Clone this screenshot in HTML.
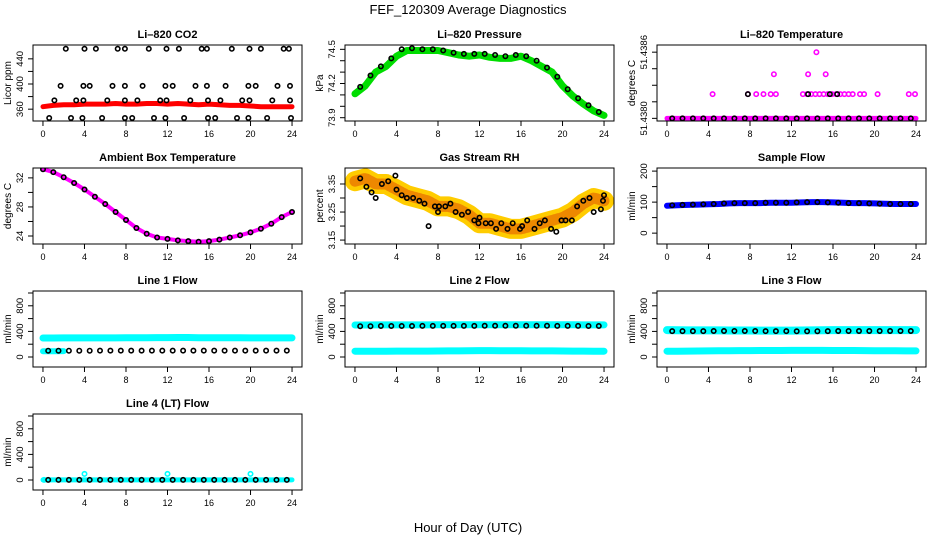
<!DOCTYPE html>
<html><head><meta charset="utf-8">
<style>
html,body{margin:0;padding:0;background:#fff;}
svg{display:block;font-family:"Liberation Sans",sans-serif;}
</style></head>
<body>
<svg id="c" width="936" height="540" viewBox="0 0 936 540">
<text x="468" y="14" text-anchor="middle" font-size="13">FEF_120309  Average Diagnostics</text>
<text x="468" y="532" text-anchor="middle" font-size="13">Hour of Day (UTC)</text>
</svg>
<script>
const HOURS=[0,1,2,3,4,5,6,7,8,9,10,11,12,13,14,15,16,17,18,19,20,21,22,23,24];
const HALF=[0.5,1.5,2.5,3.5,4.5,5.5,6.5,7.5,8.5,9.5,10.5,11.5,12.5,13.5,14.5,15.5,16.5,17.5,18.5,19.5,20.5,21.5,22.5,23.5];
const X_TICKS=[0,4,8,12,16,20,24];

// CO2
const co2Red=[364,366,367,367,368,368,368,369,368,368,369,369,368,369,368,367,368,367,366,366,365,364,364,364,364];
const co2H1=[2.2,4.0,5.1,7.2,7.9,10.2,11.9,13.1,15.3,15.8,18.2,19.9,21.0,23.2,23.7];
const co2V1=[456,456,456,456,456,456,456,456,456,456,456,456,456,456,456];
const co2H2=[1.7,3.9,4.5,6.7,7.9,9.6,11.8,12.5,14.7,15.8,17.6,19.8,20.5,22.6,23.8];
const co2V2=[397,397,397,397,397,397,397,397,397,397,397,397,397,397,397];
const co2H3=[1.1,3.2,3.9,6.2,7.9,9.1,11.3,11.9,14.2,15.9,17.1,19.2,19.9,22.1,23.8];
const co2V3=[374,374,374,374,374,374,374,374,374,374,374,374,374,374,374];
const co2H4=[0.6,2.7,3.8,5.7,7.9,8.6,10.7,11.8,13.6,15.9,16.6,18.7,19.8,21.6,23.9];
const co2V4=[346,346,346,346,346,346,346,346,346,346,346,346,346,346,346];
// Pressure
const presGreen=[74.11,74.18,74.30,74.35,74.44,74.49,74.49,74.49,74.49,74.47,74.45,74.44,74.45,74.43,74.42,74.42,74.44,74.40,74.35,74.30,74.18,74.09,74.02,73.96,73.92];
const presBlack=[74.17,74.27,74.35,74.42,74.50,74.51,74.50,74.50,74.49,74.47,74.46,74.46,74.46,74.45,74.44,74.45,74.44,74.40,74.34,74.26,74.15,74.07,74.01,73.95];
// Li-820 temperature
const tmpBaseH=HOURS;
const tmpBaseV=[51.4380,51.4380,51.4380,51.4380,51.4380,51.4380,51.4380,51.4380,51.4380,51.4380,51.4380,51.4380,51.4380,51.4380,51.4380,51.4380,51.4380,51.4380,51.4380,51.4380,51.4380,51.4380,51.4380,51.4380,51.4380];
const tmpMidH=[4.4,7.8,8.6,9.3,10.0,10.5,13.1,13.5,13.9,14.3,14.7,15.1,15.5,15.9,16.3,16.7,17.1,17.5,17.9,18.6,19.0,20.3,23.3,23.9];
const tmpMidV=[51.43822,51.43822,51.43822,51.43822,51.43822,51.43822,51.43822,51.43822,51.43822,51.43822,51.43822,51.43822,51.43822,51.43822,51.43822,51.43822,51.43822,51.43822,51.43822,51.43822,51.43822,51.43822,51.43822,51.43822];
const tmpHiH=[10.3,13.6,15.3,14.4];
const tmpHiV=[51.43840,51.43840,51.43840,51.43860];
const tmpBlkH=[7.8,13.6,15.7,16.4];
const tmpBlkV=[51.43822,51.43822,51.43822,51.43822];
// Ambient
const ambient=[33.2,32.8,32.1,31.3,30.4,29.4,28.4,27.3,26.2,25.1,24.3,23.8,23.6,23.4,23.3,23.2,23.3,23.5,23.8,24.1,24.5,25.0,25.7,26.6,27.3];
// Gas RH
const rhBand=[3.36,3.37,3.35,3.35,3.33,3.31,3.30,3.29,3.27,3.27,3.26,3.24,3.21,3.21,3.20,3.19,3.19,3.20,3.21,3.22,3.23,3.25,3.28,3.30,3.29];
const rhH=[0.5,1.1,1.6,2.0,2.6,3.2,3.9,4.0,4.5,5.0,5.6,6.2,6.7,7.1,7.7,8.0,8.1,8.7,9.2,9.7,10.3,10.9,11.5,11.9,12.0,12.6,13.1,13.6,14.1,14.7,15.2,15.9,16.1,16.6,17.3,17.8,18.3,18.9,19.4,19.9,20.3,20.9,21.4,22.0,22.6,23.0,23.7,23.9,24.0];
const rhV=[3.37,3.34,3.32,3.30,3.35,3.36,3.38,3.33,3.31,3.30,3.30,3.29,3.28,3.20,3.27,3.25,3.27,3.27,3.28,3.25,3.24,3.25,3.22,3.21,3.23,3.21,3.21,3.19,3.21,3.19,3.21,3.19,3.20,3.22,3.19,3.21,3.22,3.19,3.18,3.22,3.22,3.22,3.27,3.29,3.30,3.25,3.26,3.29,3.31];
// Sample flow
const sampleFlow=[88,90,91,92,93,94,96,97,97,97,98,98,98,99,100,100,99,98,97,97,96,95,94,94,94];
// Line flows
const l1Cyan=[297,297,298,298,299,299,299,299,300,301,302,303,303,304,304,302,301,300,300,300,299,299,299,299,298];
const l1Low=[90,90,92];
const l1Black=[98,98,99,99,99,100,100,100,100,100,100,100,100,100,100,100,100,100,100,100,100,100,100,100];
const l2Cyan=[500,500,501,501,502,502,502,502,503,503,504,504,504,505,505,505,504,504,503,503,503,503,502,502,502];
const l2Low=[90,90,91,91,92,92,93,93,94,95,96,97,100,100,99,98,97,96,95,95,94,93,92,91,91];
const l2Black=[482,482,484,485,485,485,486,486,486,486,486,486,487,487,488,488,488,488,487,486,486,486,485,485];
const l3Cyan=[420,418,416,416,416,415,414,414,414,413,413,412,412,414,416,418,420,420,420,420,420,420,420,420,420];
const l3Low=[90,90,92,94,95,97,99,100,100,101,102,102,103,103,103,103,102,102,101,100,99,98,97,96,96];
const l3Black=[404,405,405,405,406,406,406,406,406,405,405,404,402,402,403,404,406,407,407,406,406,406,406,406];
const l4Zero=[2,2,2,2,2,2,2,2,2,2,2,2,2,2,2,2,2,2,2,2,2,2,2,2,2];
const l4BlipH=[0.1,4.0,12.0,20.0];
const l4BlipV=[2,95,95,95];
const l4Black=[2,2,2,2,2,2,2,2,2,2,2,2,2,2,2,2,2,2,2,2,2,2,2,2];

const NS="http://www.w3.org/2000/svg";
const svg=document.getElementById('c');
function mk(tag,attrs,parent){const e=document.createElementNS(NS,tag);for(const k in attrs)e.setAttribute(k,attrs[k]);(parent||svg).appendChild(e);return e;}

const COLS=[33,345,657], ROWS=[45,168,291,414], W=269, H=76;
const XDOM=[-0.96,24.96];

const panels=[
 {title:'Li–820 CO2',name:'li820-co2',c:0,r:0,ylab:'Licor ppm',yd:[341.2,462.0],ticks:[360,380,400,420,440],labels:[[360,'360'],[400,'400'],[440,'440']],
  series:[{t:'band',x:HOURS,y:co2Red,col:'#ff0000',w:5},
   {t:'pts',x:co2H1,y:co2V1,col:'#000'},{t:'pts',x:co2H2,y:co2V2,col:'#000'},{t:'pts',x:co2H3,y:co2V3,col:'#000'},{t:'pts',x:co2H4,y:co2V4,col:'#000'}]},
 {title:'Li–820 Pressure',name:'li820-pressure',c:1,r:0,ylab:'kPa',yd:[73.871,74.538],ticks:[73.9,74.0,74.1,74.2,74.3,74.4,74.5],labels:[[74.5,'74.5'],[74.2,'74.2'],[73.9,'73.9']],
  series:[{t:'band',x:HOURS,y:presGreen,col:'#00dd00',w:7},{t:'pts',x:HALF,y:presBlack,col:'#000'}]},
 {title:'Li–820 Temperature',name:'li820-temperature',c:2,r:0,ylab:'degrees C',yd:[51.437976,51.438665],ticks:[51.4380,51.43815,51.4383,51.43845,51.4386],labels:[[51.4380,'51.4380'],[51.4386,'51.4386']],
  series:[{t:'band',x:tmpBaseH,y:tmpBaseV,col:'#ff00ff',w:5},{t:'pts',x:HALF,y:tmpBaseV.slice(1),col:'#000'},
   {t:'pts',x:tmpMidH,y:tmpMidV,col:'#ff00ff'},{t:'pts',x:tmpHiH,y:tmpHiV,col:'#ff00ff'},{t:'pts',x:tmpBlkH,y:tmpBlkV,col:'#000'}]},
 {title:'Ambient Box Temperature',name:'ambient-box-temperature',c:0,r:1,ylab:'degrees C',yd:[22.9,33.36],ticks:[24,26,28,30,32],labels:[[24,'24'],[28,'28'],[32,'32']],
  series:[{t:'band',x:HOURS,y:ambient,col:'#ff00ff',w:4},{t:'pts',x:HOURS,y:ambient,col:'#000'}]},
 {title:'Gas Stream RH',name:'gas-stream-rh',c:1,r:1,ylab:'percent',yd:[3.136,3.407],ticks:[3.15,3.20,3.25,3.30,3.35],labels:[[3.15,'3.15'],[3.25,'3.25'],[3.35,'3.35']],
  series:[{t:'band',x:HOURS,y:rhBand,col:'#ffcc00',w:20},{t:'band',x:HOURS,y:rhBand,col:'#ee8800',w:11,dash:'2 2'},{t:'pts',x:rhH,y:rhV,col:'#000'}]},
 {title:'Sample Flow',name:'sample-flow',c:2,r:1,ylab:'ml/min',yd:[-35,210],ticks:[0,50,100,150,200],labels:[[0,'0'],[100,'100'],[200,'200']],
  series:[{t:'band',x:HOURS,y:sampleFlow,col:'#0000ff',w:6},{t:'pts',x:HALF,y:sampleFlow.slice(1),col:'#000'}]},
 {title:'Line 1 Flow',name:'line-1-flow',c:0,r:2,ylab:'ml/min',yd:[-156,1031],ticks:[0,200,400,600,800,1000],labels:[[0,'0'],[400,'400'],[800,'800']],
  series:[{t:'band',x:HOURS,y:l1Cyan,col:'#00ffff',w:7},{t:'band',x:[0,1,2],y:l1Low,col:'#00ffff',w:6},{t:'pts',x:HALF,y:l1Black,col:'#000'}]},
 {title:'Line 2 Flow',name:'line-2-flow',c:1,r:2,ylab:'ml/min',yd:[-156,1031],ticks:[0,200,400,600,800,1000],labels:[[0,'0'],[400,'400'],[800,'800']],
  series:[{t:'band',x:HOURS,y:l2Cyan,col:'#00ffff',w:7},{t:'band',x:HOURS,y:l2Low,col:'#00ffff',w:7},{t:'pts',x:HALF,y:l2Black,col:'#000'}]},
 {title:'Line 3 Flow',name:'line-3-flow',c:2,r:2,ylab:'ml/min',yd:[-156,1031],ticks:[0,200,400,600,800,1000],labels:[[0,'0'],[400,'400'],[800,'800']],
  series:[{t:'band',x:HOURS,y:l3Cyan,col:'#00ffff',w:8},{t:'band',x:HOURS,y:l3Low,col:'#00ffff',w:7},{t:'pts',x:HALF,y:l3Black,col:'#000'}]},
 {title:'Line 4 (LT) Flow',name:'line-4-flow',c:0,r:3,ylab:'ml/min',yd:[-156,1031],ticks:[0,200,400,600,800,1000],labels:[[0,'0'],[400,'400'],[800,'800']],
  series:[{t:'band',x:HOURS,y:l4Zero,col:'#00ffff',w:5},{t:'pts',x:l4BlipH,y:l4BlipV,col:'#00ffff'},{t:'pts',x:HALF,y:l4Black,col:'#000'}]}
];

panels.forEach(p=>{
 const L=COLS[p.c], T=ROWS[p.r];
 const g=mk('g',{});
 
 
 const sx=h=>L+(h-XDOM[0])/(XDOM[1]-XDOM[0])*W;
 const sy=v=>T+H-(v-p.yd[0])/(p.yd[1]-p.yd[0])*H;
 const cp='clip-'+p.name;
 const cl=mk('clipPath',{id:cp},g); mk('rect',{x:L,y:T,width:W,height:H},cl);
 const t=mk('text',{x:L+W/2,y:T-7,'text-anchor':'middle','font-size':11,'font-weight':'bold'},g);
 t.textContent=p.title;
 
 
 const yl=mk('text',{transform:`translate(${L-22},${T+H/2}) rotate(-90)`,'text-anchor':'middle','font-size':10},g);
 yl.textContent=p.ylab;
 
 
 const plot=mk('g',{'clip-path':`url(#${cp})`},g);
 p.series.forEach(s=>{
  if(s.t==='band'){
   const pts=s.x.map((h,i)=>sx(h).toFixed(1)+','+sy(s.y[i]).toFixed(1)).join(' ');
   const a={points:pts,fill:'none',stroke:s.col,'stroke-width':s.w,'stroke-linejoin':'round','stroke-linecap':'round'};
   if(s.dash)a['stroke-dasharray']=s.dash;
   const pl=mk('polyline',a,plot);
   
   
  } else {
   s.x.forEach((h,i)=>{
    const c=mk('circle',{cx:sx(h).toFixed(1),cy:sy(s.y[i]).toFixed(1),r:2.2,fill:'none',stroke:s.col,'stroke-width':1.6},plot);
    
    
   });
  }
 });
 const box=mk('rect',{x:L,y:T,width:W,height:H,fill:'none',stroke:'#000','stroke-width':1},g);
 
 
 X_TICKS.forEach(h=>{
  mk('line',{x1:sx(h),x2:sx(h),y1:T+H,y2:T+H+5,stroke:'#000'},g);
  const tx=mk('text',{x:sx(h),y:T+H+16,'text-anchor':'middle','font-size':9},g);
  tx.textContent=h;
  
  
 });
 p.ticks.forEach(v=>{mk('line',{x1:L-5,x2:L,y1:sy(v),y2:sy(v),stroke:'#000'},g);});
 p.labels.forEach(([v,s])=>{
  const ty=mk('text',{transform:`translate(${L-10},${sy(v)}) rotate(-90)`,'text-anchor':'middle','font-size':9.5},g);
  ty.textContent=s;
  
  
 });
});
</script>
</body></html>
